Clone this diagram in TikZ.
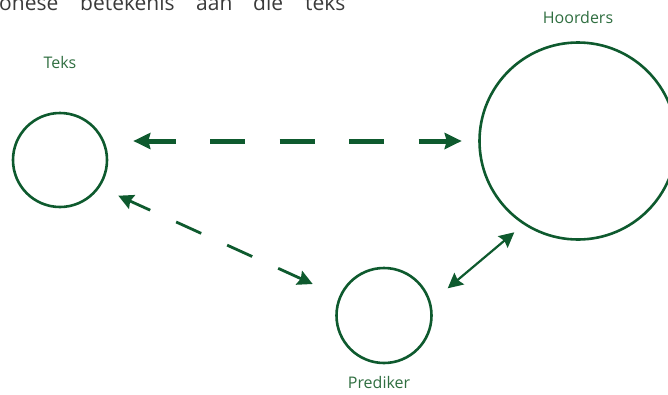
\documentclass[tikz,border=0pt]{standalone}
\usepackage{fontspec}
\setmainfont{Open Sans}
\usetikzlibrary{arrows.meta,calc}
\definecolor{dgreen}{HTML}{0E5A2E}
\definecolor{lgreen}{HTML}{2F6E40}
\definecolor{bodygray}{HTML}{3A3A3A}
\tikzset{
  ring/.style={circle,draw=dgreen,line width=2.6pt,inner sep=0pt,outer sep=0pt},
  lbl/.style={text=lgreen,font=\fontsize{16}{19}\selectfont,anchor=base,inner sep=0pt},
  thickdash/.style={draw=dgreen,line width=5pt,dash pattern=on 35pt off 34.5pt,dash phase=6.6pt,
    {Stealth[length=17pt,width=16pt,inset=2pt]}-{Stealth[length=17pt,width=16pt,inset=2pt]}},
  thindash/.style={draw=dgreen,line width=2.8pt,dash pattern=on 27.5pt off 28.5pt,dash phase=4.7pt,
    {Stealth[length=15pt,width=15pt,inset=2pt]}-{Stealth[length=15pt,width=15pt,inset=2pt]}},
  solidarrow/.style={draw=dgreen,line width=2.2pt,
    {Stealth[length=15pt,width=15pt,inset=2pt]}-{Stealth[length=15pt,width=15pt,inset=2pt]}}
}
\begin{document}
\begin{tikzpicture}[x=1pt,y=-1pt]
\clip (0,0) rectangle (668,394);
\useasboundingbox (0,0) rectangle (668,394);
% clipped body text at the top
\node[anchor=base west,inner sep=0pt,text=bodygray,font=\fontsize{21}{24}\selectfont] (body) at (-1,10)
  {\makebox[81pt][l]{onese}\makebox[116pt][l]{betekenis}\makebox[57pt][l]{aan}\makebox[52pt][l]{die}teks};
% circles
\node[ring,minimum size=94pt] (teks) at (60,160) {};
\node[ring,minimum size=197pt] (hoor) at (578,141) {};
\node[ring,minimum size=95pt] (pred) at (384,315.5) {};
% labels
\node[lbl] (lteks) at (60,68) {Teks};
\node[lbl] (lhoor) at (578,23) {Hoorders};
\node[lbl] (lpred) at (379,388) {Prediker};
% connector end points
\coordinate (t1) at ($(teks.east |- hoor.west)+(26.3,0)$);
\coordinate (h1) at ($(hoor.west)+(-17.8,0)$);
\coordinate (t2) at ($(teks.center)+(58.3,35.7)$);
\coordinate (p1) at ($(pred.center)+(-71.3,-31.5)$);
\coordinate (p2) at ($(pred.center)+(63.7,-27.2)$);
\coordinate (h2) at ($(hoor.center)+(-63.7,91.3)$);
% connectors
\draw[thickdash] (t1) -- (h1);
\draw[thindash] (t2) -- (p1);
\draw[solidarrow] (p2) -- (h2);
\end{tikzpicture}
\end{document}
